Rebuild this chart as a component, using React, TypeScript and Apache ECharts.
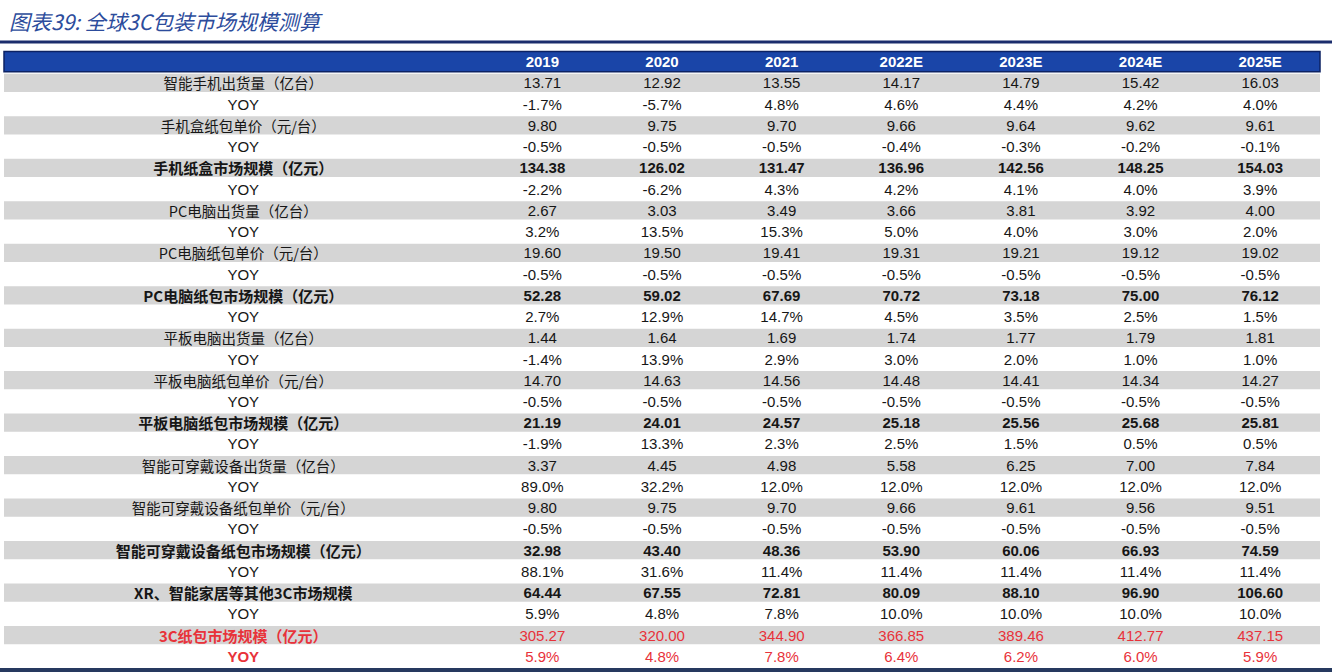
import React, { useEffect, useRef } from 'react';
import * as echarts from 'echarts';

const titleText = '图表39: 全球3C包装市场规模测算';
const years = ['2019', '2020', '2021', '2022E', '2023E', '2024E', '2025E'];

const phoneShip = [13.71, 12.92, 13.55, 14.17, 14.79, 15.42, 16.03];
const phoneShipYoy = [-1.7, -5.7, 4.8, 4.6, 4.4, 4.2, 4.0];
const phonePrice = [9.8, 9.75, 9.7, 9.66, 9.64, 9.62, 9.61];
const phonePriceYoy = [-0.5, -0.5, -0.5, -0.4, -0.3, -0.2, -0.1];
const phoneMarket = [134.38, 126.02, 131.47, 136.96, 142.56, 148.25, 154.03];
const phoneMarketYoy = [-2.2, -6.2, 4.3, 4.2, 4.1, 4.0, 3.9];
const pcShip = [2.67, 3.03, 3.49, 3.66, 3.81, 3.92, 4.0];
const pcShipYoy = [3.2, 13.5, 15.3, 5.0, 4.0, 3.0, 2.0];
const pcPrice = [19.6, 19.5, 19.41, 19.31, 19.21, 19.12, 19.02];
const pcPriceYoy = [-0.5, -0.5, -0.5, -0.5, -0.5, -0.5, -0.5];
const pcMarket = [52.28, 59.02, 67.69, 70.72, 73.18, 75.0, 76.12];
const pcMarketYoy = [2.7, 12.9, 14.7, 4.5, 3.5, 2.5, 1.5];
const tabletShip = [1.44, 1.64, 1.69, 1.74, 1.77, 1.79, 1.81];
const tabletShipYoy = [-1.4, 13.9, 2.9, 3.0, 2.0, 1.0, 1.0];
const tabletPrice = [14.7, 14.63, 14.56, 14.48, 14.41, 14.34, 14.27];
const tabletPriceYoy = [-0.5, -0.5, -0.5, -0.5, -0.5, -0.5, -0.5];
const tabletMarket = [21.19, 24.01, 24.57, 25.18, 25.56, 25.68, 25.81];
const tabletMarketYoy = [-1.9, 13.3, 2.3, 2.5, 1.5, 0.5, 0.5];
const wearShip = [3.37, 4.45, 4.98, 5.58, 6.25, 7.0, 7.84];
const wearShipYoy = [89.0, 32.2, 12.0, 12.0, 12.0, 12.0, 12.0];
const wearPrice = [9.8, 9.75, 9.7, 9.66, 9.61, 9.56, 9.51];
const wearPriceYoy = [-0.5, -0.5, -0.5, -0.5, -0.5, -0.5, -0.5];
const wearMarket = [32.98, 43.4, 48.36, 53.9, 60.06, 66.93, 74.59];
const wearMarketYoy = [88.1, 31.6, 11.4, 11.4, 11.4, 11.4, 11.4];
const otherMarket = [64.44, 67.55, 72.81, 80.09, 88.1, 96.9, 106.6];
const otherMarketYoy = [5.9, 4.8, 7.8, 10.0, 10.0, 10.0, 10.0];
const totalMarket = [305.27, 320.0, 344.9, 366.85, 389.46, 412.77, 437.15];
const totalMarketYoy = [5.9, 4.8, 7.8, 6.4, 6.2, 6.0, 5.9];

const rowLabels = [
  '智能手机出货量（亿台）', 'YOY',
  '手机盒纸包单价（元/台）', 'YOY',
  '手机纸盒市场规模（亿元）', 'YOY',
  'PC电脑出货量（亿台）', 'YOY',
  'PC电脑纸包单价（元/台）', 'YOY',
  'PC电脑纸包市场规模（亿元）', 'YOY',
  '平板电脑出货量（亿台）', 'YOY',
  '平板电脑纸包单价（元/台）', 'YOY',
  '平板电脑纸包市场规模（亿元）', 'YOY',
  '智能可穿戴设备出货量（亿台）', 'YOY',
  '智能可穿戴设备纸包单价（元/台）', 'YOY',
  '智能可穿戴设备纸包市场规模（亿元）', 'YOY',
  'XR、智能家居等其他3C市场规模', 'YOY',
  '3C纸包市场规模（亿元）', 'YOY',
];

const rowValues = [
  phoneShip, phoneShipYoy, phonePrice, phonePriceYoy, phoneMarket, phoneMarketYoy,
  pcShip, pcShipYoy, pcPrice, pcPriceYoy, pcMarket, pcMarketYoy,
  tabletShip, tabletShipYoy, tabletPrice, tabletPriceYoy, tabletMarket, tabletMarketYoy,
  wearShip, wearShipYoy, wearPrice, wearPriceYoy, wearMarket, wearMarketYoy,
  otherMarket, otherMarketYoy, totalMarket, totalMarketYoy,
];

// kind: 0 plain, 1 bold, 2 red
const rowKinds = [
  0, 0, 0, 0, 1, 0,
  0, 0, 0, 0, 1, 0,
  0, 0, 0, 0, 1, 0,
  0, 0, 0, 0, 1, 0,
  1, 0, 2, 2,
];

const xCats = ['c0', 'c1', 'c2', 'c3', ...years];
const yCats = ['header', ...rowLabels.map((_, i) => 'r' + i)];

const CJK = '"Noto Sans CJK SC", "Noto Sans", sans-serif';
const LATIN = '"Liberation Sans", Arial, sans-serif';
const BLACK = '#161616';
const RED = '#e8323a';

type Cell = { col: number; row: number; text: string; bold: boolean; color: string; font: string; size: number };

function buildCells(): Cell[] {
  const cells: Cell[] = [];
  years.forEach((y, i) => {
    cells.push({ col: 4 + i, row: 0, text: y, bold: true, color: '#ffffff', font: LATIN, size: 15 });
  });
  rowLabels.forEach((label, r) => {
    const kind = rowKinds[r];
    const isYoy = label === 'YOY';
    const color = kind === 2 ? RED : BLACK;
    cells.push({
      col: -1,
      row: r + 1,
      text: label,
      bold: kind !== 0,
      color,
      font: isYoy ? LATIN : CJK,
      size: isYoy ? 15 : kind !== 0 ? 15 : 14.5,
    });
    rowValues[r].forEach((v, i) => {
      cells.push({
        col: 4 + i,
        row: r + 1,
        text: isYoy ? v.toFixed(1) + '%' : v.toFixed(2),
        bold: kind === 1,
        color,
        font: LATIN,
        size: 15,
      });
    });
  });
  return cells;
}

export default function App() {
  const ref = useRef<HTMLDivElement>(null);
  useEffect(() => {
    if (!ref.current) return;
    const chart = echarts.init(ref.current, undefined, { renderer: 'svg' });
    const cells = buildCells();
    const option: any = {
      animation: false,
      backgroundColor: '#ffffff',
      title: {
        text: titleText,
        left: 4,
        top: 5,
        textStyle: {
          fontFamily: CJK,
          fontSize: 21,
          fontStyle: 'italic',
          fontWeight: 'normal',
          color: '#2c4c9c',
        },
      },
      grid: { left: 4, right: 12, top: 51, bottom: 5 },
      xAxis: { type: 'category', data: xCats, show: false },
      yAxis: { type: 'category', data: yCats, inverse: true, show: false },
      graphic: [
        { type: 'rect', shape: { x: 0, y: 40.5, width: 1332, height: 3 }, style: { fill: '#1b2d6c' } },
        { type: 'rect', shape: { x: 0, y: 668, width: 1332, height: 4 }, style: { fill: '#26395f' } },
      ],
      series: [
        {
          type: 'custom',
          silent: true,
          data: yCats.map((_, i) => [0, i]),
          encode: { x: 0, y: 1 },
          renderItem: (params: any, api: any) => {
            const row = api.value(1);
            const cs = params.coordSys;
            const cy = api.coord([0, row])[1];
            const h = api.size([0, 1])[1];
            if (row === 0) {
              return {
                type: 'rect',
                shape: { x: cs.x, y: cy - h / 2 + 0.5, width: cs.width, height: h - 1 },
                style: { fill: '#1a45a8', stroke: '#0c2263', lineWidth: 1.5 },
              };
            }
            if (row % 2 === 1) {
              return {
                type: 'rect',
                shape: { x: cs.x, y: cy - h / 2 + 1.5, width: cs.width, height: h - 3 },
                style: { fill: '#d5d5d5' },
              };
            }
            return { type: 'group', children: [] };
          },
        },
        {
          type: 'custom',
          silent: true,
          data: cells.map((c) => [c.col < 0 ? 0 : c.col, c.row]),
          encode: { x: 0, y: 1 },
          renderItem: (params: any, api: any) => {
            const c = cells[params.dataIndex];
            const row = api.value(1);
            let x: number;
            if (c.col < 0) {
              const a = api.coord([0, row]);
              const b = api.coord([3, row]);
              x = (a[0] + b[0]) / 2;
            } else {
              x = api.coord([c.col, row])[0];
            }
            const y = api.coord([0, row])[1];
            return {
              type: 'text',
              x,
              y,
              style: {
                text: c.text,
                fill: c.color,
                fontFamily: c.font,
                fontSize: c.size,
                fontWeight: c.bold ? 'bold' : 'normal',
                align: 'center',
                verticalAlign: 'middle',
                textAlign: 'center',
                textVerticalAlign: 'middle',
              },
            };
          },
        },
      ],
    };
    chart.setOption(option);
    return () => chart.dispose();
  }, []);
  return (
    <div
      ref={ref}
      style={{ position: 'fixed', left: 0, top: 0, width: 1332, height: 672, background: '#fff' }}
    />
  );
}
